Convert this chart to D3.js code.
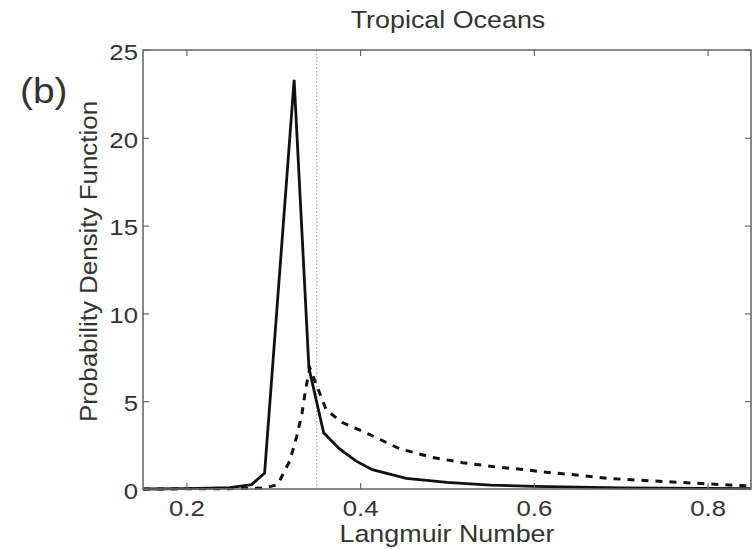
<!DOCTYPE html>
<html>
<head>
<meta charset="utf-8">
<script src="https://cdn.jsdelivr.net/npm/d3@7"></script>
<style>
  body { margin: 0; background: #fff; }
  svg text { font-family: "Liberation Sans", Arial, Helvetica, sans-serif; fill: #333; }
</style>
</head>
<body>
<svg id="chart" width="756" height="549"></svg>
<script>
// ---- data ----
const solidX = [0.15, 0.20, 0.25, 0.275, 0.290, 0.324, 0.341, 0.358, 0.376, 0.395, 0.414, 0.453, 0.50, 0.55, 0.60, 0.70, 0.80, 0.85];
const solidY = [0.0, 0.02, 0.08, 0.25, 0.9, 23.3, 6.9, 3.2, 2.3, 1.6, 1.1, 0.6, 0.38, 0.22, 0.15, 0.06, 0.03, 0.02];

const dashX = [0.15, 0.25, 0.29, 0.305, 0.319, 0.327, 0.333, 0.337, 0.342, 0.361, 0.379, 0.411, 0.445, 0.483, 0.518, 0.557, 0.591, 0.61, 0.649, 0.687, 0.721, 0.759, 0.798, 0.836, 0.85];
const dashY = [0.0, 0.02, 0.06, 0.25, 1.6, 3.0, 4.3, 5.6, 6.9, 4.5, 3.8, 3.1, 2.3, 1.8, 1.5, 1.25, 1.1, 0.97, 0.8, 0.6, 0.5, 0.4, 0.3, 0.2, 0.17];

const refLine = 0.35;
const xTicks = [0.2, 0.4, 0.6, 0.8];
const yTicks = [0, 5, 10, 15, 20, 25];
const xDomain = [0.15, 0.85];
const yDomain = [0, 25];

const titleText = "Tropical Oceans";
const xLabel = "Langmuir Number";
const yLabel = "Probability Density Function";
const panelLabel = "(b)";

// ---- layout ----
const svg = d3.select("#chart");
const L = 143, R = 751, T = 50, B = 489;
const x = d3.scaleLinear().domain(xDomain).range([L, R]);
const y = d3.scaleLinear().domain(yDomain).range([B, T]);
const axisColor = "#6a6a6a";
const SX = 1.12; // horizontal stretch of the text in the reference

// reference dotted vertical line
svg.append("line")
  .attr("x1", x(refLine)).attr("x2", x(refLine))
  .attr("y1", T).attr("y2", B)
  .attr("stroke", "#9a9a9a").attr("stroke-width", 1)
  .attr("stroke-dasharray", "1.5,2");

// curves
const solid = solidX.map((v, i) => [v, solidY[i]]);
const dashed = dashX.map((v, i) => [v, dashY[i]]);
const line = d3.line().x(d => x(d[0])).y(d => y(d[1]));

svg.append("path").datum(dashed)
  .attr("d", line).attr("fill", "none")
  .attr("stroke", "#111").attr("stroke-width", 3)
  .attr("stroke-dasharray", "7,7");

svg.append("path").datum(solid)
  .attr("d", line).attr("fill", "none")
  .attr("stroke", "#111").attr("stroke-width", 2.8)
  .attr("stroke-linejoin", "miter");

// axes (inward ticks on all sides)
function styleAxis(g) {
  g.select(".domain").remove();
  g.selectAll(".tick line").attr("stroke", axisColor).attr("stroke-width", 1.2);
}

const gB = svg.append("g").attr("transform", `translate(0,${B})`)
  .call(d3.axisBottom(x).tickValues(xTicks).tickSize(-6).tickSizeOuter(0).tickPadding(11).tickFormat(d3.format(".1f")));
styleAxis(gB);
gB.selectAll(".tick text").attr("font-size", 23).attr("fill", "#333")
  .attr("transform", `scale(${SX},1)`);

const gT = svg.append("g").attr("transform", `translate(0,${T})`)
  .call(d3.axisTop(x).tickValues(xTicks).tickSize(-6).tickSizeOuter(0).tickFormat(""));
styleAxis(gT);

const gL = svg.append("g").attr("transform", `translate(${L},0)`)
  .call(d3.axisLeft(y).tickValues(yTicks).tickSize(-6).tickSizeOuter(0).tickFormat(d3.format("d")));
styleAxis(gL);
gL.selectAll(".tick text").attr("font-size", 23).attr("fill", "#333")
  .attr("x", 0).attr("dy", "0.36em")
  .attr("transform", `translate(-5,1) scale(${SX},1)`);

const gR = svg.append("g").attr("transform", `translate(${R},0)`)
  .call(d3.axisRight(y).tickValues(yTicks).tickSize(-6).tickSizeOuter(0).tickFormat(""));
styleAxis(gR);

// frame
svg.append("rect")
  .attr("x", L).attr("y", T).attr("width", R - L).attr("height", B - T)
  .attr("fill", "none").attr("stroke", axisColor).attr("stroke-width", 1.6);

// texts
svg.append("text")
  .attr("transform", `translate(${(L + R) / 2 + 1},28) scale(${SX},1)`)
  .attr("text-anchor", "middle").attr("font-size", 24).text(titleText);

svg.append("text")
  .attr("transform", `translate(${(L + R) / 2},542) scale(${SX},1)`)
  .attr("text-anchor", "middle").attr("font-size", 24).text(xLabel);

svg.append("text")
  .attr("transform", `translate(97,${(T + B) / 2 - 8}) rotate(-90) scale(1.08,1)`)
  .attr("text-anchor", "middle").attr("font-size", 24).text(yLabel);

svg.append("text")
  .attr("transform", `translate(20,103) scale(1.08,1)`)
  .attr("font-size", 36).attr("fill", "#222").text(panelLabel);
</script>
</body>
</html>
